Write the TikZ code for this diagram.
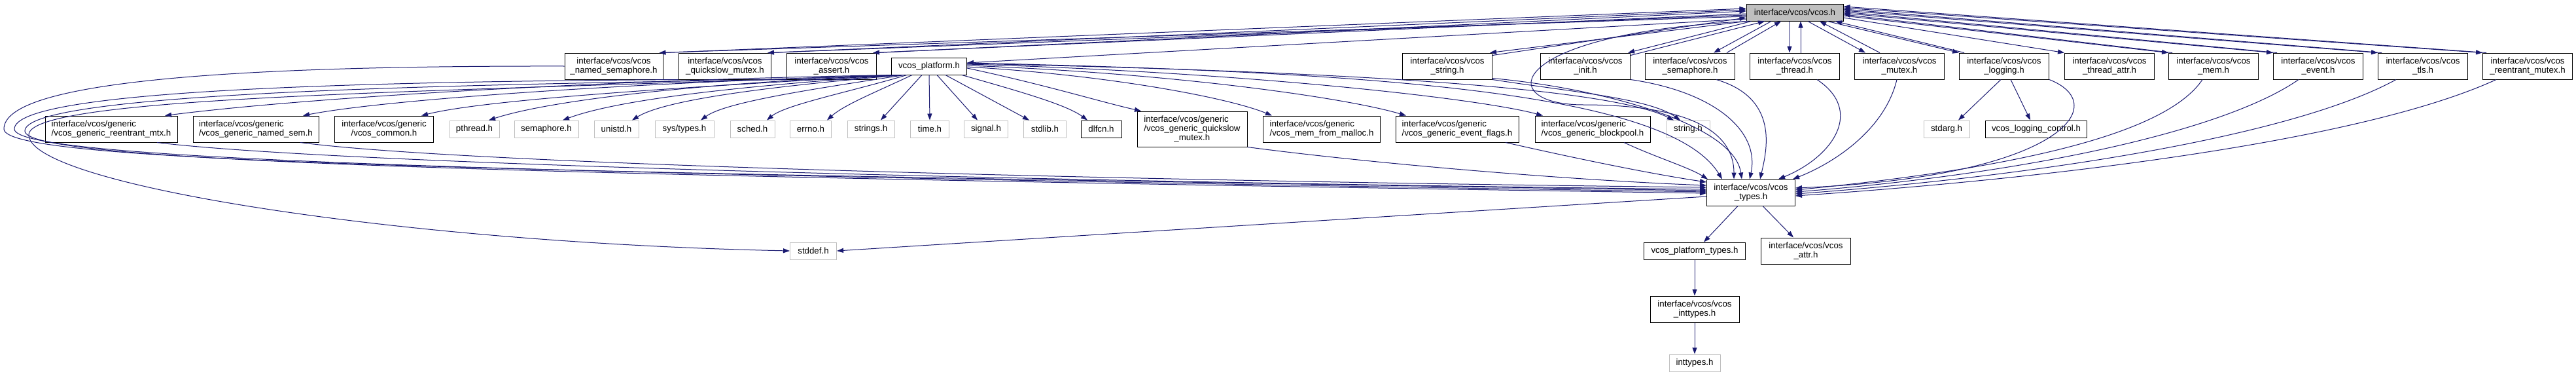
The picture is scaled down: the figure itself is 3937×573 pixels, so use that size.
\documentclass[tikz,border=0pt]{standalone}
\usepackage{fontspec}
\setmainfont{Liberation Sans}
\usetikzlibrary{arrows.meta}
\definecolor{edgeBlue}{HTML}{191970}
\definecolor{nodeGray}{HTML}{BFBFBF}
\tikzset{
  fileBox/.style={rectangle, draw=black, fill=white, align=center, inner sep=0pt,
                  minimum height=40pt, line width=1pt, font=\fontsize{13.3}{14}\selectfont},
  fileOne/.style={fileBox, minimum height=26pt},
  sysBox/.style={fileOne, draw=nodeGray},
  topBox/.style={fileOne, fill=nodeGray},
  edgeB/.style={-{Triangle[length=10pt,width=7pt]}, draw=edgeBlue, line width=1pt},
}
\begin{document}
\begin{tikzpicture}[x=1pt, y=-1pt]
    \useasboundingbox (0,0) rectangle (3937,573);

    % cabecera
    \node[topBox, minimum width=148pt] (vcos) at (2743,19) {interface/vcos/vcos.h};

    % fila 1
    \node[fileBox, minimum width=150pt] (namedsem) at (938,101) {interface/vcos/vcos\\\_named\_semaphore.h};
    \node[fileBox, minimum width=141pt] (qsmutex) at (1108,101) {interface/vcos/vcos\\\_quickslow\_mutex.h};
    \node[fileBox, minimum width=137pt] (assertv) at (1271,101) {interface/vcos/vcos\\\_assert.h};
    \node[fileOne, minimum width=115pt] (platform) at (1420,101) {vcos\_platform.h};
    \node[fileBox, minimum width=137pt] (stringv) at (2212,101) {interface/vcos/vcos\\\_string.h};
    \node[fileBox, minimum width=137pt] (initv) at (2423,101) {interface/vcos/vcos\\\_init.h};
    \node[fileBox, minimum width=137pt] (semv) at (2583,101) {interface/vcos/vcos\\\_semaphore.h};
    \node[fileBox, minimum width=137pt] (threadv) at (2743,101) {interface/vcos/vcos\\\_thread.h};
    \node[fileBox, minimum width=137pt] (mutexv) at (2903,101) {interface/vcos/vcos\\\_mutex.h};
    \node[fileBox, minimum width=137pt] (loggingv) at (3063,101) {interface/vcos/vcos\\\_logging.h};
    \node[fileBox, minimum width=137pt] (tattrv) at (3224,101) {interface/vcos/vcos\\\_thread\_attr.h};
    \node[fileBox, minimum width=137pt] (memv) at (3383,101) {interface/vcos/vcos\\\_mem.h};
    \node[fileBox, minimum width=137pt] (eventv) at (3543,101) {interface/vcos/vcos\\\_event.h};
    \node[fileBox, minimum width=137pt] (tlsv) at (3703,101) {interface/vcos/vcos\\\_tls.h};
    \node[fileBox, minimum width=137pt] (rmutexv) at (3863,101) {interface/vcos/vcos\\\_reentrant\_mutex.h};

    % fila 2
    \node[fileBox, align=left, minimum width=202pt] (grmtx) at (170,197) {interface/vcos/generic\\/vcos\_generic\_reentrant\_mtx.h};
    \node[fileBox, align=left, minimum width=192pt] (gnsem) at (391,197) {interface/vcos/generic\\/vcos\_generic\_named\_sem.h};
    \node[fileBox, minimum width=151pt] (gcommon) at (587,197) {interface/vcos/generic\\/vcos\_common.h};
    \node[sysBox, minimum width=76pt] (pthread) at (725,197) {pthread.h};
    \node[sysBox, minimum width=98pt] (semh) at (835,197) {semaphore.h};
    \node[sysBox, minimum width=68pt] (unistd) at (942,197) {unistd.h};
    \node[sysBox, minimum width=90pt] (systypes) at (1046,197) {sys/types.h};
    \node[sysBox, minimum width=68pt] (sched) at (1150,197) {sched.h};
    \node[sysBox, minimum width=63pt] (errnoh) at (1239,197) {errno.h};
    \node[sysBox, minimum width=72pt] (strings) at (1331,197) {strings.h};
    \node[sysBox, minimum width=59pt] (timeh) at (1421,197) {time.h};
    \node[sysBox, minimum width=67pt] (signalh) at (1507,197) {signal.h};
    \node[sysBox, minimum width=65pt] (stdlibh) at (1597,197) {stdlib.h};
    \node[fileOne, minimum width=62pt] (dlfcn) at (1683,197) {dlfcn.h};
    \node[fileBox, align=left, minimum width=168pt, minimum height=54pt] (gqsmutex) at (1822,197)
         {interface/vcos/generic\\/vcos\_generic\_quickslow\\\hspace*{46pt}\_mutex.h};
    \node[fileBox, align=left, minimum width=179pt] (gmalloc) at (2020,197) {interface/vcos/generic\\/vcos\_mem\_from\_malloc.h};
    \node[fileBox, align=left, minimum width=188pt] (gevent) at (2227,197) {interface/vcos/generic\\/vcos\_generic\_event\_flags.h};
    \node[fileBox, align=left, minimum width=176pt] (gblock) at (2434,197) {interface/vcos/generic\\/vcos\_generic\_blockpool.h};
    \node[sysBox, minimum width=66pt] (stringh) at (2580,197) {string.h};
    \node[sysBox, minimum width=70pt] (stdarg) at (2975,197) {stdarg.h};
    \node[fileOne, minimum width=155pt] (logctrl) at (3112,197) {vcos\_logging\_control.h};

    % parte inferior
    \node[fileBox, minimum width=135pt] (types) at (2676,294) {interface/vcos/vcos\\\_types.h};
    \node[sysBox, minimum width=71pt] (stddef) at (1243,383) {stddef.h};
    \node[fileOne, minimum width=155pt] (ptypes) at (2590,383) {vcos\_platform\_types.h};
    \node[fileBox, minimum width=137pt] (attr) at (2760,383) {interface/vcos/vcos\\\_attr.h};
    \node[fileBox, minimum width=136pt] (intv) at (2590,472) {interface/vcos/vcos\\\_inttypes.h};
    \node[sysBox, minimum width=78pt] (inth) at (2590,554) {inttypes.h};

    % vcos.h <-> fila 1
    \draw[edgeB] ([yshift=-6pt]vcos.west) -- ([xshift=-6pt]namedsem.north east);
    \draw[edgeB] (namedsem.north east) -- ([yshift=6pt]vcos.west);
    \draw[edgeB] ([yshift=-4pt]vcos.west) -- ([xshift=-6pt]qsmutex.north east);
    \draw[edgeB] (qsmutex.north east) -- ([yshift=4pt]vcos.west);
    \draw[edgeB] ([yshift=-2pt]vcos.west) -- ([xshift=-6pt]assertv.north east);
    \draw[edgeB] (assertv.north east) -- ([yshift=2pt]vcos.west);
    \draw[edgeB] ([yshift=-10pt]vcos.west) -- ([yshift=5pt]platform.east);
    \draw[edgeB] (vcos.south west) -- ([xshift=-4pt]stringv.north east);
    \draw[edgeB] ([yshift=-4pt]stringv.north east) -- ([yshift=-8pt]vcos.west);
    \draw[edgeB] ([xshift=8pt]vcos.south west) -- ([xshift=-4pt]initv.north east);
    \draw[edgeB] ([yshift=-4pt]initv.north east) -- ([xshift=-46pt]vcos.south);
    \draw[edgeB] ([xshift=-36pt]vcos.south) -- ([xshift=36pt]semv.north);
    \draw[edgeB] ([xshift=56pt]semv.north) -- ([xshift=-21pt]vcos.south);
    \draw[edgeB] ([xshift=-8pt]vcos.south) -- ([xshift=-8pt]threadv.north);
    \draw[edgeB] ([xshift=9pt]threadv.north) -- ([xshift=9pt]vcos.south);
    \draw[edgeB] ([xshift=20pt]vcos.south) -- ([xshift=-52pt]mutexv.north);
    \draw[edgeB] ([xshift=-30pt]mutexv.north) -- ([xshift=38pt]vcos.south);
    \draw[edgeB] ([xshift=50pt]vcos.south) -- (loggingv.north west);
    \draw[edgeB] ([xshift=8pt]loggingv.north west) -- ([xshift=62pt]vcos.south);
    \draw[edgeB] ([yshift=-8pt]vcos.east) -- (tattrv.north west);
    \draw[edgeB] ([yshift=-5pt]vcos.east) -- (memv.north west);
    \draw[edgeB] ([xshift=6pt]memv.north west) -- ([yshift=-3pt]vcos.east);
    \draw[edgeB] ([yshift=-1pt]vcos.east) -- (eventv.north west);
    \draw[edgeB] ([xshift=6pt]eventv.north west) -- ([yshift=1pt]vcos.east);
    \draw[edgeB] ([yshift=3pt]vcos.east) -- (tlsv.north west);
    \draw[edgeB] ([xshift=6pt]tlsv.north west) -- ([yshift=5pt]vcos.east);
    \draw[edgeB] ([yshift=7pt]vcos.east) -- (rmutexv.north west);
    \draw[edgeB] ([xshift=6pt]rmutexv.north west) -- ([yshift=9pt]vcos.east);
    \draw[edgeB] ([xshift=4pt]vcos.south west) .. controls (2300,50) and (2280,160) .. (2420,160)
                 .. controls (2580,160) and (2650,200) .. ([xshift=-26pt]types.north);

    % vcos_platform.h
    \draw[edgeB] ([xshift=-50pt]platform.south) .. controls (1000,120) and (500,145) .. ([xshift=82pt]grmtx.north);
    \draw[edgeB] ([xshift=-48pt]platform.south) .. controls (1000,125) and (600,150) .. ([xshift=72pt]gnsem.north);
    \draw[edgeB] ([xshift=-46pt]platform.south) .. controls (1100,130) and (750,150) .. ([xshift=57pt]gcommon.north);
    \draw[edgeB] ([xshift=-44pt]platform.south) .. controls (1100,125) and (850,150) .. ([xshift=22pt]pthread.north);
    \draw[edgeB] ([xshift=-42pt]platform.south) .. controls (1150,130) and (950,150) .. ([xshift=25pt]semh.north);
    \draw[edgeB] ([xshift=-40pt]platform.south) .. controls (1200,130) and (1020,150) .. ([xshift=24pt]unistd.north);
    \draw[edgeB] ([xshift=-38pt]platform.south) .. controls (1250,135) and (1110,155) .. ([xshift=25pt]systypes.north);
    \draw[edgeB] ([xshift=-34pt]platform.south) .. controls (1300,140) and (1200,160) .. ([xshift=22pt]sched.north);
    \draw[edgeB] ([xshift=-26pt]platform.south) .. controls (1340,140) and (1290,160) .. ([xshift=25pt]errnoh.north);
    \draw[edgeB] ([xshift=-11pt]platform.south) -- ([xshift=15pt]strings.north);
    \draw[edgeB] (platform.south) -- (timeh.north);
    \draw[edgeB] ([xshift=12pt]platform.south) -- ([xshift=-13pt]signalh.north);
    \draw[edgeB] ([xshift=25pt]platform.south) -- ([xshift=-24pt]stdlibh.north);
    \draw[edgeB] ([xshift=50pt]platform.south) .. controls (1560,140) and (1630,160) .. ([xshift=-21pt]dlfcn.north);
    \draw[edgeB] ([yshift=-3pt]platform.east) .. controls (1600,130) and (1680,155) .. ([xshift=-78pt]gqsmutex.north);
    \draw[edgeB] ([yshift=-1pt]platform.east) .. controls (1700,115) and (1880,150) .. ([xshift=-76pt]gmalloc.north);
    \draw[edgeB] ([yshift=1pt]platform.east) .. controls (1800,112) and (2060,150) .. ([xshift=-78pt]gevent.north);
    \draw[edgeB] ([yshift=3pt]platform.east) .. controls (1900,110) and (2260,150) .. ([xshift=-76pt]gblock.north);
    \draw[edgeB] ([yshift=4pt]platform.east) .. controls (2000,108) and (2450,130) .. ([xshift=-22pt]stringh.north);
    \draw[edgeB] ([yshift=5pt]platform.east) .. controls (2100,110) and (2550,140) .. ([xshift=-44pt]types.north);
    \draw[edgeB] ([xshift=-50pt]platform.south) .. controls (700,140) and (50,145) .. (44,205)
                 .. controls (40,280) and (600,370) .. (stddef.west);

    % lazos por la izquierda hasta vcos_types.h
    \draw[edgeB] (namedsem.west) .. controls (300,100) and (6,130) .. (6,197)
                 .. controls (6,250) and (800,262) .. ([yshift=3pt]types.west);
    \draw[edgeB] (qsmutex.south west) .. controls (500,125) and (22,140) .. (22,197)
                 .. controls (22,245) and (800,265) .. ([yshift=1pt]types.west);
    \draw[edgeB] (assertv.south west) .. controls (600,130) and (38,145) .. (38,200)
                 .. controls (38,248) and (800,267) .. ([yshift=-1pt]types.west);

    % fila 2 -> vcos_types.h
    \draw[edgeB] ([xshift=70pt]grmtx.south) .. controls (500,250) and (1600,278) .. ([yshift=5pt]types.west);
    \draw[edgeB] ([xshift=68pt]gnsem.south) .. controls (700,250) and (1700,276) .. ([yshift=8pt]types.west);
    \draw[edgeB] (gqsmutex.south east) .. controls (2100,250) and (2400,275) .. ([yshift=11pt]types.west);
    \draw[edgeB] ([xshift=74pt]gevent.south) .. controls (2400,240) and (2520,265) .. ([yshift=16pt]types.west);
    \draw[edgeB] ([xshift=48pt]gblock.south) .. controls (2530,240) and (2580,255) .. ([xshift=2pt]types.north west);

    % fila 1 -> vcos_types.h
    \draw[edgeB] (stringv.south east) .. controls (2400,140) and (2520,150) .. ([xshift=-12pt]stringh.north);
    \draw[edgeB] ([yshift=2pt]stringv.south east) .. controls (2450,135) and (2650,190) .. ([xshift=-14pt]types.north);
    \draw[edgeB] (initv.south east) .. controls (2620,140) and (2690,200) .. ([xshift=-2pt]types.north);
    \draw[edgeB] ([xshift=40pt]semv.south) .. controls (2720,150) and (2700,230) .. ([xshift=14pt]types.north);
    \draw[edgeB] ([xshift=34pt]threadv.south) .. controls (2850,170) and (2800,240) .. ([xshift=42pt]types.north);
    \draw[edgeB] ([xshift=-4pt]mutexv.south) .. controls (2880,200) and (2800,250) .. ([xshift=-4pt]types.north east);
    \draw[edgeB] (loggingv.south east) .. controls (3230,160) and (3150,270) .. ([yshift=7pt]types.east);
    \draw[edgeB] ([xshift=-17pt]memv.south) .. controls (3320,190) and (3150,250) .. ([yshift=4pt]types.east);
    \draw[edgeB] ([xshift=-30pt]eventv.south) .. controls (3400,200) and (3100,265) .. ([yshift=1pt]types.east);
    \draw[edgeB] ([xshift=-41pt]tlsv.south) .. controls (3500,210) and (3100,270) .. ([yshift=-2pt]types.east);
    \draw[edgeB] ([xshift=-48pt]rmutexv.south) .. controls (3600,220) and (3100,275) .. ([yshift=-5pt]types.east);

    % vcos_logging.h
    \draw[edgeB] ([xshift=-5pt]loggingv.south) -- ([xshift=18pt]stdarg.north);
    \draw[edgeB] ([xshift=10pt]loggingv.south) -- ([xshift=-9pt]logctrl.north);

    % vcos_types.h
    \draw[edgeB] ([yshift=-6pt]types.west) -- (stddef.east);
    \draw[edgeB] ([xshift=-20pt]types.south) -- ([xshift=14pt]ptypes.north);
    \draw[edgeB] ([xshift=18pt]types.south) -- ([xshift=-19pt]attr.north);
    \draw[edgeB] (ptypes) -- (intv);
    \draw[edgeB] (intv) -- (inth);
\end{tikzpicture}
\end{document}
